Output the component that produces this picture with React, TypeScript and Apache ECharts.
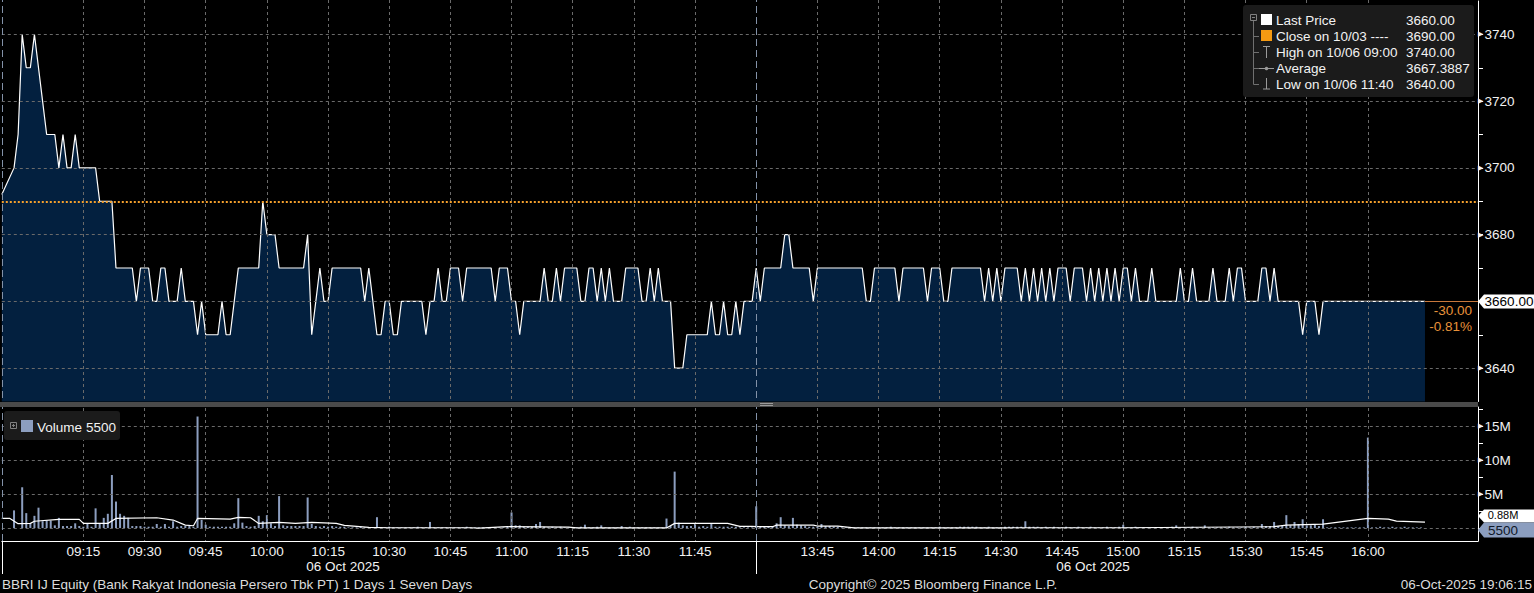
import React, { useEffect, useRef } from "react";
import * as echarts from "echarts";

const FONT = "'Liberation Sans', Arial, sans-serif";
const FS = 13.5;

// trading sessions (gap compressed like the terminal does)
const sessions: [string, string][] = [
  ["08:55", "11:59"],
  ["13:30", "16:27"],
];
const toMin = (s: string) => {
  const [h, m] = s.split(":").map(Number);
  return h * 60 + m;
};
const pad = (n: number) => (n < 10 ? "0" + n : "" + n);
const categories: string[] = [];
sessions.forEach(([a, b]) => {
  for (let t = toMin(a); t <= toMin(b); t++) categories.push(pad(Math.floor(t / 60)) + ":" + pad(t % 60));
});

// last price per minute (08:55 ... 11:59, 13:30 ... 16:14)
const price: (number | null)[] = [
  3692, null, null, 3700, 3710, 3740, 3730, 3730, 3740, 3730,
  3720, 3710, 3710, 3710, 3700, 3710, 3700, 3700, 3710, 3700,
  3700, 3700, 3700, 3700, 3690, 3690, 3690, 3690, 3670, 3670,
  3670, 3670, 3670, 3660, 3670, 3670, 3670, 3660, 3660, 3670,
  3670, 3660, 3660, 3660, 3670, 3660, 3660, 3660, 3650, 3660,
  3650, 3650, 3650, 3650, 3660, 3650, 3650, 3660, 3670, 3670,
  3670, 3670, 3670, 3670, 3690, 3680, 3680, 3680, 3670, 3670,
  3670, 3670, 3670, 3670, 3670, 3680, 3650, 3660, 3670, 3660,
  3660, 3670, 3670, 3670, 3670, 3670, 3670, 3670, 3670, 3660,
  3670, 3660, 3650, 3650, 3660, 3660, 3650, 3650, 3660, 3660,
  3660, 3660, 3660, 3660, 3650, 3660, 3660, 3670, 3660, 3660,
  3670, 3670, 3670, 3660, 3670, 3670, 3670, 3670, 3670, 3670,
  3670, 3660, 3670, 3670, 3670, 3660, 3660, 3650, 3660, 3660,
  3660, 3660, 3660, 3670, 3660, 3660, 3670, 3660, 3670, 3670,
  3670, 3670, 3660, 3660, 3670, 3670, 3660, 3670, 3660, 3670,
  3660, 3660, 3660, 3670, 3670, 3670, 3670, 3660, 3660, 3670,
  3660, 3670, 3660, 3660, 3660, 3640, 3640, 3640, 3650, 3650,
  3650, 3650, 3650, 3650, 3660, 3650, 3650, 3660, 3650, 3650,
  3660, 3650, 3660, 3660, 3660, 3670, 3660, 3670, 3670, 3670,
  3670, 3670, 3680, 3680, 3670, 3670, 3670, 3670, 3670, 3660,
  3670, 3670, 3670, 3670, 3670, 3670, 3670, 3670, 3670, 3670,
  3670, 3670, 3660, 3660, 3670, 3670, 3670, 3670, 3670, 3670,
  3660, 3670, 3670, 3670, 3670, 3670, 3670, 3660, 3670, 3670,
  3670, 3660, 3660, 3670, 3670, 3670, 3670, 3670, 3670, 3670,
  3670, 3660, 3670, 3660, 3670, 3660, 3670, 3670, 3670, 3670,
  3660, 3670, 3660, 3670, 3660, 3670, 3660, 3670, 3660, 3670,
  3670, 3670, 3660, 3670, 3670, 3670, 3660, 3670, 3660, 3670,
  3660, 3670, 3660, 3670, 3660, 3670, 3670, 3660, 3670, 3660,
  3660, 3660, 3670, 3660, 3660, 3660, 3660, 3660, 3660, 3670,
  3660, 3660, 3670, 3660, 3660, 3660, 3660, 3670, 3660, 3660,
  3660, 3670, 3660, 3670, 3670, 3660, 3660, 3660, 3660, 3670,
  3670, 3660, 3670, 3660, 3660, 3660, 3660, 3660, 3660, 3650,
  3660, 3660, 3660, 3650, 3660, 3660, 3660, 3660, 3660, 3660,
  3660, 3660, 3660, 3660, 3660, 3660, 3660, 3660, 3660, 3660,
  3660, 3660, 3660, 3660, 3660, 3660, 3660, 3660, 3660, 3660,
];

// volume per minute, millions of shares
const volume: number[] = [
  0, 0, 0, 2.6, 0, 6.0, 2.2, 0.7, 1.8, 3.0,
  1.0, 1.1, 1.1, 0.4, 1.5, 0.3, 0.3, 0.3, 0.7, 0.3,
  0.2, 0.6, 0.2, 2.9, 0.7, 1.5, 2.1, 7.8, 3.9, 2.1,
  1.8, 1.5, 0.3, 0.3, 0.3, 0.2, 0.2, 0.2, 0.6, 0.2,
  0.6, 0.2, 1.0, 0.2, 0.3, 0.3, 0.3, 0.2, 16.4, 1.2,
  0.5, 0.2, 0.2, 0.2, 0.2, 0.2, 0.2, 0.7, 4.4, 0.8,
  0.3, 0.2, 0.3, 1.8, 1.0, 1.9, 0.7, 0.3, 4.7, 0.4,
  0.3, 0.3, 0.3, 0.3, 0.3, 4.5, 0.6, 0.3, 0.2, 0.3,
  0.2, 0.3, 0.2, 0.2, 0.2, 0.1, 0.1, 0.1, 0.2, 0.1,
  0.1, 0.1, 1.6, 0.1, 0.1, 0.2, 0.1, 0.1, 0.1, 0.1,
  0.1, 0.1, 0.2, 0.1, 0.1, 0.9, 0.1, 0.1, 0.1, 0.1,
  0.1, 0.1, 0.1, 0.1, 0.2, 0.1, 0.1, 0.1, 0.1, 0.1,
  0.1, 0.1, 0.1, 0.1, 0.2, 2.3, 0.4, 0.4, 0.2, 0.2,
  0.2, 0.6, 0.9, 0.2, 0.1, 0.2, 0.1, 0.2, 0.1, 0.1,
  0.1, 0.1, 0.2, 0.5, 0.1, 0.1, 0.2, 0.4, 0.1, 0.1,
  0.1, 0.1, 0.3, 0.1, 0.2, 0.1, 0.1, 0.1, 0.1, 0.1,
  0.1, 0.1, 0.1, 1.4, 0.3, 8.3, 0.8, 0.4, 0.3, 0.3,
  0.7, 0.2, 0.3, 0.2, 0.7, 0.2, 0.2, 0.2, 0.2, 0.2,
  0.2, 0.1, 0.1, 0.1, 0.1, 3.2, 0.2, 0.2, 0.3, 0.3,
  0.7, 1.6, 0.4, 0.3, 1.5, 0.5, 0.4, 0.3, 0.2, 0.2,
  0.2, 0.6, 0.3, 0.3, 0.2, 0.2, 0.1, 0.1, 0.1, 0.1,
  0.1, 0.1, 0.1, 0.1, 0.1, 0.1, 0.1, 0.1, 0.2, 0.1,
  0.1, 0.1, 0.1, 0.1, 0.1, 0.1, 0.1, 0.1, 0.1, 0.1,
  0.2, 0.1, 0.1, 0.1, 0.1, 0.2, 0.2, 0.2, 0.2, 0.2,
  0.1, 0.1, 0.2, 0.1, 0.1, 0.1, 0.2, 0.2, 0.2, 0.2,
  0.2, 1.0, 0.2, 0.2, 0.2, 0.1, 0.2, 0.1, 0.2, 0.1,
  0.1, 0.2, 0.1, 0.1, 0.2, 0.1, 0.1, 0.2, 0.1, 0.1,
  0.1, 0.2, 0.1, 0.1, 0.2, 0.5, 0.1, 0.1, 0.2, 0.1,
  0.1, 0.1, 0.1, 0.1, 0.1, 0.1, 0.1, 0.2, 0.4, 0.1,
  0.1, 0.1, 0.2, 0.1, 0.1, 0.4, 0.1, 0.1, 0.1, 0.1,
  0.1, 0.2, 0.1, 0.1, 0.1, 0.2, 0.1, 0.2, 0.1, 0.6,
  0.3, 0.3, 0.9, 0.3, 0.3, 1.9, 0.4, 0.9, 0.6, 1.3,
  0.4, 0.4, 0.6, 0.3, 1.3, 0.1, 0.1, 0.1, 0.1, 0.1,
  0.1, 0.1, 0.1, 0.1, 0.1, 13.3, 0.1, 0.1, 0.2, 0.1,
  0.1, 0.2, 0.1, 0.1, 0.2, 0.1, 0.1, 0.1, 0.1, 0.0055,
];

// white average-volume line (read at its vertices), millions
const volumeAvg: [string, number][] = [
  ["08:55", 1.42], ["08:57", 1.42], ["08:59", 0.65], ["09:02", 0.69], ["09:03", 1.0],
  ["09:09", 1.27], ["09:14", 1.27], ["09:15", 0.69], ["09:21", 0.69], ["09:23", 1.42],
  ["09:33", 1.52], ["09:37", 1.18], ["09:40", 0.44], ["09:42", 0.34], ["09:43", 1.42],
  ["09:51", 1.32], ["09:53", 1.57], ["09:56", 1.52], ["09:58", 0.69], ["10:03", 0.83],
  ["10:07", 0.69], ["10:11", 0.83], ["10:17", 0.69], ["10:19", 0.39], ["10:25", 0.1],
  ["10:30", 0.05], ["10:50", 0.05], ["10:52", 0.0], ["10:59", 0.2], ["11:14", 0.15],
  ["11:16", 0.02], ["11:38", 0.02], ["11:40", 0.69], ["11:53", 0.69], ["11:56", 0.25],
  ["11:59", 0.25], ["13:30", 0.2], ["13:34", 0.2], ["13:35", 0.44], ["13:44", 0.44],
  ["13:45", 0.3], ["13:50", 0.3], ["13:54", 0.02], ["14:31", 0.02], ["14:33", 0.05],
  ["15:00", 0.05], ["15:37", 0.2], ["15:40", 0.44], ["15:49", 0.59], ["16:00", 1.42],
  ["16:05", 1.32], ["16:07", 1.03], ["16:14", 0.88],
];

const prevClose = 3690;
const lastPrice = 3660;
const lastVolume = 5500;
const lastAvgLabel = "0.88M";
const priceTicks = [3640, 3650, 3660, 3670, 3680, 3690, 3700, 3710, 3720, 3730, 3740];
// 3660 is covered by the last-price tag
const priceLabels = [3640, 3680, 3700, 3720, 3740];
const priceGrid = [3640, 3660, 3680, 3700, 3720, 3740];
const volTicks = [0, 2.5, 5, 7.5, 10, 12.5, 15, 17.5];
const volLabels = [5, 10, 15];
const volGrid = [0, 5, 10, 15];
const legendRows: [string, string][] = [
  ["Last Price", "3660.00"],
  ["Close on 10/03 ----", "3690.00"],
  ["High on 10/06 09:00", "3740.00"],
  ["Average", "3667.3887"],
  ["Low on 10/06 11:40", "3640.00"],
];
const changeAbs = "-30.00";
const changePct = "-0.81%";

const WHITE = "#f2f2f2";
const GRIDC = "#6a6a6a";
const ORANGE = "#f5a02c";
const AREA = "#03203f";
const VOLC = "#8c9ebf";

const lastCat = categories[categories.length - 1];
const lastDataCat = categories[price.length - 1];
const sessionStarts = sessions.map((s) => s[0]);

const isGridTime = (name: string) => {
  const t = toMin(name);
  if (t % 15 !== 0) return false;
  return (t >= toMin("09:15") && t <= toMin("11:45")) || (t >= toMin("13:45") && t <= toMin("16:00"));
};

const arrowRich = {
  t: { fontSize: 7, color: WHITE, padding: [0, 1, 0, 0], fontFamily: "DejaVu Sans" },
  v: { fontSize: FS, color: WHITE, fontFamily: FONT },
};

const tagPath = "path://M0,7 L6,0 L56,0 L56,14 L6,14 Z";

function buildOption(): any {
  const L = 1.8;
  const R = 56;
  const text = (x: number, y: number, s: string, fill = WHITE, align = "left", extra: any = {}) => ({
    type: "text",
    x,
    y,
    z: 20,
    silent: true,
    style: {
      text: s,
      fill,
      font: `${FS}px ${FONT}`,
      align,
      textAlign: align,
      verticalAlign: "middle",
      textVerticalAlign: "middle",
      ...extra,
    },
  });
  const line = (x1: number, y1: number, x2: number, y2: number, stroke = "#707070", w = 1) => ({
    type: "line",
    z: 20,
    silent: true,
    shape: { x1, y1, x2, y2 },
    style: { stroke, lineWidth: w },
  });

  const legendEls: any[] = [
    { type: "rect", z: 19, silent: true, shape: { x: 1243, y: 5, width: 231, height: 92, r: 3 }, style: { fill: "#1b1b1b" } },
    { type: "rect", z: 20, silent: true, shape: { x: 1250.5, y: 14.5, width: 6, height: 6 }, style: { fill: "none", stroke: "#808080", lineWidth: 1 } },
    line(1252, 17.5, 1255, 17.5, "#808080"),
    line(1253.5, 21, 1253.5, 84.5),
    line(1253.5, 36.5, 1259, 36.5),
    line(1253.5, 52.5, 1259, 52.5),
    line(1253.5, 68.5, 1259, 68.5),
    line(1253.5, 84.5, 1259, 84.5),
    { type: "rect", z: 20, silent: true, shape: { x: 1261, y: 14, width: 11, height: 11 }, style: { fill: "#ffffff" } },
    { type: "rect", z: 20, silent: true, shape: { x: 1261, y: 30, width: 11, height: 11 }, style: { fill: "#f59a12" } },
    line(1266.5, 46.5, 1266.5, 58, "#9a9a9a"),
    line(1263, 46.5, 1270, 46.5, "#9a9a9a"),
    line(1259, 68.5, 1274, 68.5, "#9a9a9a"),
    { type: "circle", z: 21, silent: true, shape: { cx: 1266.5, cy: 68.5, r: 1.8 }, style: { fill: "#9a9a9a" } },
    line(1266.5, 78, 1266.5, 89, "#9a9a9a"),
    line(1263, 89, 1270, 89, "#9a9a9a"),
  ];
  legendRows.forEach(([lab, val], i) => {
    const y = 20.5 + i * 16;
    legendEls.push(text(1276, y, lab));
    legendEls.push(text(1406, y, val));
  });

  const volLegend: any[] = [
    { type: "rect", z: 19, silent: true, shape: { x: 4, y: 411, width: 116, height: 29, r: 3 }, style: { fill: "#1b1b1b" } },
    { type: "rect", z: 20, silent: true, shape: { x: 10.5, y: 422.5, width: 6, height: 6 }, style: { fill: "none", stroke: "#808080", lineWidth: 1 } },
    line(12, 425.5, 15, 425.5, "#808080"),
    line(13.5, 424, 13.5, 427, "#808080"),
    { type: "rect", z: 20, silent: true, shape: { x: 21, y: 420, width: 12, height: 12 }, style: { fill: VOLC } },
    text(37, 427, "Volume"),
    text(86, 427, String(lastVolume)),
  ];

  const graphics: any[] = [
    { type: "rect", z: 18, silent: true, shape: { x: 0, y: 402, width: 1478, height: 5 }, style: { fill: "#4a4a4a" } },
    line(760, 403.5, 773, 403.5, "#9a9a9a"),
    line(760, 405.5, 773, 405.5, "#9a9a9a"),
    ...legendEls,
    ...volLegend,
    text(1472, 310.5, changeAbs, "#e8923a", "right"),
    text(1472, 326, changePct, "#e8923a", "right"),
    text(343, 566.5, "06 Oct 2025", WHITE, "center"),
    text(1093, 566.5, "06 Oct 2025", WHITE, "center"),
    text(2, 584, "BBRI IJ Equity (Bank Rakyat Indonesia Persero Tbk PT) 1 Days 1 Seven Days", "#dcdcdc"),
    text(933, 584, "Copyright\u00a9 2025 Bloomberg Finance L.P.", "#dcdcdc", "center"),
    text(1532, 584, "06-Oct-2025 19:06:15", "#dcdcdc", "right"),
  ];

  const hLine = (v: number, color = GRIDC, type: any = [3, 3], width = 1) => ({
    yAxis: v,
    lineStyle: { color, type, width },
  });

  return {
    animation: false,
    backgroundColor: "#000",
    textStyle: { fontFamily: FONT },
    grid: [
      { left: L, right: R, top: 0, height: 541 },
      { left: L, right: R, top: 1, height: 400.5 },
      { left: L, right: R, top: 407, height: 134 },
    ],
    xAxis: [
      {
        gridIndex: 0,
        type: "category",
        data: categories,
        boundaryGap: false,
        z: 3,
        axisLine: { show: true, lineStyle: { color: "#ffffff", width: 1 } },
        axisTick: {
          show: true,
          interval: (_i: number, v: string) => sessionStarts.includes(v),
          length: 33,
          lineStyle: { color: "#ffffff", width: 1 },
        },
        axisLabel: {
          interval: (_i: number, v: string) => isGridTime(v),
          color: WHITE,
          fontSize: FS,
          fontFamily: FONT,
          margin: 3,
        },
        splitLine: {
          show: true,
          interval: (_i: number, v: string) => isGridTime(v),
          lineStyle: { color: GRIDC, type: [3, 3], width: 1 },
        },
      },
      { gridIndex: 1, type: "category", data: categories, boundaryGap: false, show: false },
      { gridIndex: 2, type: "category", data: categories, boundaryGap: false, show: false },
    ],
    yAxis: [
      { gridIndex: 0, type: "value", min: 0, max: 1, show: false },
      {
        gridIndex: 1,
        type: "value",
        position: "right",
        min: 3630,
        max: 3750,
        axisLine: { show: true, lineStyle: { color: "#ffffff" } },
        axisTick: { show: true, customValues: priceTicks, length: 5, lineStyle: { color: "#ffffff" } },
        axisLabel: {
          customValues: priceLabels,
          margin: 0,
          formatter: (v: number) => `{t|\u25B6}{v|${v}}`,
          rich: arrowRich,
        },
        splitLine: { show: false },
      },
      {
        gridIndex: 2,
        type: "value",
        position: "right",
        min: -1.9,
        max: 17.8,
        axisLine: { show: true, lineStyle: { color: "#ffffff" } },
        axisTick: { show: true, customValues: volTicks, length: 5, lineStyle: { color: "#ffffff" } },
        axisLabel: {
          customValues: volLabels,
          margin: 0,
          formatter: (v: number) => `{t|\u25B6}{v|${v}M}`,
          rich: arrowRich,
        },
        splitLine: { show: false },
      },
    ],
    series: [
      {
        name: "Last Price",
        type: "line",
        xAxisIndex: 1,
        yAxisIndex: 1,
        data: price,
        symbol: "none",
        showSymbol: false,
        connectNulls: true,
        clip: false,
        z: 2,
        lineStyle: { color: "#ffffff", width: 1.2 },
        areaStyle: { color: AREA, opacity: 1, origin: "start" },
        markLine: {
          silent: true,
          symbol: ["none", "none"],
          label: { show: false },
          z: 3,
          data: [
            ...priceGrid.map((v) => hLine(v)),
            hLine(prevClose, ORANGE, [2, 2], 2),
            [
              { coord: [lastDataCat, lastPrice], lineStyle: { color: "#c8783c", type: "solid", width: 1 } },
              { coord: [lastCat, lastPrice] },
            ],
          ],
        },
        markPoint: {
          z: 10,
          silent: true,
          data: [
            {
              coord: [lastCat, lastPrice],
              symbol: tagPath,
              symbolSize: [56, 14],
              symbolKeepAspect: false,
              symbolOffset: [28, 0],
              itemStyle: { color: "#ffffff" },
              label: {
                show: true,
                position: "inside",
                offset: [3, 0],
                formatter: lastPrice.toFixed(2),
                color: "#000",
                fontSize: FS,
                fontFamily: FONT,
              },
            },
          ],
        },
      },
      {
        name: "Volume",
        type: "bar",
        xAxisIndex: 2,
        yAxisIndex: 2,
        data: volume,
        barWidth: 2,
        z: 2,
        itemStyle: { color: VOLC },
        markLine: {
          silent: true,
          symbol: ["none", "none"],
          label: { show: false },
          z: 3,
          data: volGrid.map((v) => hLine(v)),
        },
        markPoint: {
          z: 12,
          silent: true,
          data: [
            {
              coord: [lastCat, lastVolume / 1e6],
              symbol: tagPath,
              symbolSize: [56, 15],
              symbolKeepAspect: false,
              symbolOffset: [28, 2],
              itemStyle: { color: VOLC },
              label: {
                show: true,
                position: "inside",
                offset: [-3, 0],
                formatter: String(lastVolume),
                color: "#101828",
                fontSize: FS,
                fontFamily: FONT,
              },
            },
          ],
        },
      },
      {
        name: "Average Volume",
        type: "line",
        xAxisIndex: 2,
        yAxisIndex: 2,
        data: volumeAvg,
        symbol: "none",
        z: 4,
        lineStyle: { color: "#ffffff", width: 1.2 },
        markPoint: {
          z: 11,
          silent: true,
          data: [
            {
              coord: [lastCat, volumeAvg[volumeAvg.length - 1][1]],
              symbol: tagPath,
              symbolSize: [56, 13],
              symbolKeepAspect: false,
              symbolOffset: [28, -6],
              itemStyle: { color: "#ffffff" },
              label: {
                show: true,
                position: "inside",
                offset: [-3, -1],
                formatter: lastAvgLabel,
                color: "#000",
                fontSize: 11,
                lineHeight: 11,
                fontFamily: FONT,
              },
            },
          ],
        },
      },
      {
        name: "sessions",
        type: "line",
        xAxisIndex: 0,
        yAxisIndex: 0,
        data: [],
        markLine: {
          silent: true,
          symbol: ["none", "none"],
          label: { show: false },
          z: 6,
          lineStyle: { color: "#8392a8", type: [7, 4], width: 1 },
          data: sessionStarts.map((s) => ({ xAxis: s })),
        },
      },
    ],
    graphic: { elements: graphics },
  };
}

export default function App() {
  const ref = useRef<HTMLDivElement>(null);
  useEffect(() => {
    if (!ref.current) return;
    const chart = echarts.init(ref.current, null, { renderer: "svg" });
    chart.setOption(buildOption());
    return () => chart.dispose();
  }, []);
  return (
    <div style={{ position: "fixed", left: 0, top: 0, width: 1534, height: 593, background: "#000" }}>
      <div ref={ref} style={{ width: 1534, height: 593 }} />
    </div>
  );
}
